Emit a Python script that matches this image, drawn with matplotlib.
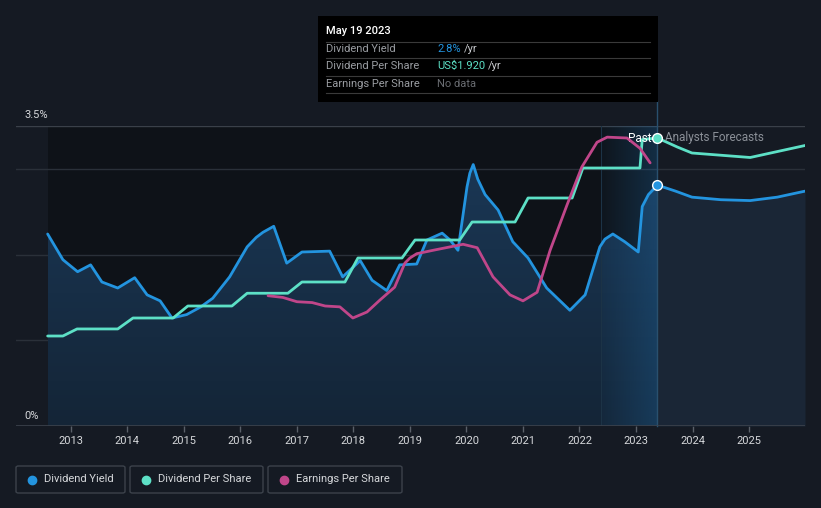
import matplotlib
matplotlib.use("Agg")
import matplotlib.pyplot as plt
import numpy as np
from matplotlib.patches import Rectangle, FancyBboxPatch
from matplotlib.lines import Line2D

# ----------------------------------------------------------------------------------------------------------------------
#  DATA
# ----------------------------------------------------------------------------------------------------------------------

# dividend yield (%), past
yield_years = [2012.59, 2012.86, 2013.12, 2013.35, 2013.55, 2013.83, 2014.13, 2014.35, 2014.58, 2014.79,
               2015.05, 2015.30, 2015.51, 2015.81, 2016.12, 2016.28, 2016.40, 2016.59, 2016.82, 2017.09,
               2017.58, 2017.81, 2018.12, 2018.33, 2018.59, 2018.82, 2019.12, 2019.30, 2019.57, 2019.71,
               2019.85, 2020.01, 2020.06, 2020.12, 2020.20, 2020.33, 2020.56, 2020.82, 2021.09, 2021.42,
               2021.83, 2022.10, 2022.36, 2022.45, 2022.59, 2022.80, 2023.04, 2023.11, 2023.22, 2023.38]
yield_vals = [2.24, 1.94, 1.80, 1.88, 1.68, 1.61, 1.73, 1.53, 1.46, 1.26,
              1.30, 1.39, 1.49, 1.74, 2.09, 2.20, 2.26, 2.33, 1.90, 2.03,
              2.04, 1.74, 1.93, 1.70, 1.58, 1.88, 1.89, 2.17, 2.25, 2.17,
              2.05, 2.79, 2.95, 3.05, 2.88, 2.70, 2.52, 2.15, 1.96, 1.61,
              1.35, 1.53, 2.09, 2.18, 2.24, 2.15, 2.03, 2.56, 2.70, 2.81]

# dividend yield (%), analysts forecast
yield_fc_years = [2023.38, 2023.70, 2023.99, 2024.50, 2025.02, 2025.50, 2025.99]
yield_fc_vals = [2.81, 2.74, 2.67, 2.64, 2.63, 2.67, 2.74]

# dividend per share (US$)
dps_years = [2012.59, 2012.86, 2013.11, 2013.83, 2014.10, 2014.81, 2015.07, 2015.85, 2016.12, 2016.84,
             2017.09, 2017.85, 2018.08, 2018.86, 2019.09, 2019.88, 2020.10, 2020.86, 2021.09, 2021.87,
             2022.06, 2023.07, 2023.11, 2023.38]
dps_vals = [0.60, 0.60, 0.647, 0.647, 0.72, 0.72, 0.80, 0.80, 0.885, 0.885,
            0.96, 0.96, 1.12, 1.12, 1.24, 1.24, 1.36, 1.36, 1.52, 1.52,
            1.72, 1.72, 1.91, 1.92]
dps_fc_years = [2023.38, 2023.73, 2023.99, 2025.02, 2025.99]
dps_fc_vals = [1.92, 1.86, 1.82, 1.79, 1.87]

# earnings per share (relative scale)
eps_years = [2016.49, 2016.75, 2017.00, 2017.27, 2017.50, 2017.76, 2017.99, 2018.24, 2018.47, 2018.73,
             2018.91, 2019.00, 2019.12, 2019.41, 2019.94, 2020.19, 2020.47, 2020.77, 2021.00, 2021.25,
             2021.48, 2021.78, 2022.04, 2022.31, 2022.49, 2022.84, 2023.07, 2023.25]
eps_vals = [1.52, 1.50, 1.45, 1.44, 1.40, 1.39, 1.26, 1.33, 1.47, 1.62,
            1.90, 1.96, 2.01, 2.05, 2.12, 2.08, 1.74, 1.53, 1.46, 1.56,
            2.05, 2.58, 3.02, 3.31, 3.37, 3.36, 3.24, 3.07]

tick_years = list(range(2013, 2026))
today = 2023.38
band_start = 2022.38

# ----------------------------------------------------------------------------------------------------------------------
#  STYLE
# ----------------------------------------------------------------------------------------------------------------------
plt.rcParams['font.family'] = ['Roboto', 'DejaVu Sans']

bg = '#151a23'
past_bg = '#0e1218'
c_yield = '#2394df'
c_dps = '#5de0c6'
c_eps = '#c0468a'
grid_c = '#2a3039'
txt_c = '#d6d8db'
fs = 8
W, H = 821, 508

fig = plt.figure(figsize=(W / 100, H / 100), dpi=100, facecolor=bg)
ax = fig.add_axes([16 / W, 1 - 426 / H, (805 - 16) / W, 300 / H])
ax.set_facecolor(bg)
ax.set_xlim(2012.03, 2025.99)
ax.set_ylim(0, 3.5)
for s in ax.spines.values():
    s.set_visible(False)

# dark past background
ax.axvspan(yield_years[0], today, color=past_bg, zorder=0, lw=0)

# gridlines
for g in [1, 2, 3, 3.5]:
    ax.axhline(g, color=grid_c if g < 3.5 else '#3a4049', lw=1, zorder=1)
ax.axhline(0, color='#3c424c', lw=1.2, zorder=6)

# gradient fill under past yield
poly = ax.fill_between(yield_years, yield_vals, 0, color='none', lw=0, zorder=2)
grad = np.zeros((100, 1, 4))
top_c = np.array([0x1a, 0x37, 0x55]) / 255
bot_c = np.array([0x14, 0x25, 0x37]) / 255
for k in range(100):
    t = k / 99
    grad[k, 0, :3] = top_c * (1 - t) + bot_c * t
    grad[k, 0, 3] = 1
im = ax.imshow(grad, extent=[yield_years[0], today, 0, 3.1], aspect='auto', zorder=2,
               interpolation='bilinear')
im.set_clip_path(poly.get_paths()[0], transform=ax.transData)

# forecast fill
ax.fill_between(yield_fc_years, yield_fc_vals, 0, color='#1a2636', lw=0, zorder=2)

# highlight band (last year before today)
band = np.zeros((1, 100, 4))
band[0, :, :3] = np.array([0x1f, 0x6a, 0xa5]) / 255
band[0, :, 3] = np.linspace(0.04, 0.32, 100)
ax.imshow(band, extent=[band_start, today, 0, 3.5], aspect='auto', zorder=3, interpolation='bilinear')
ax.axvline(band_start, color='#1c3346', lw=0.8, zorder=3)

# today line, extended up to the tooltip
ax.plot([today, today], [0, 3.79], color='#29506e', lw=1, zorder=3, clip_on=False)

# lines
ax.plot(yield_years, yield_vals, color=c_yield, lw=2, zorder=5, solid_capstyle='round')
ax.plot(yield_fc_years, yield_fc_vals, color=c_yield, lw=2, zorder=5, solid_capstyle='round')

ax_d = ax.twinx()
ax_d.set_ylim(0, 2.0)
ax_d.plot(dps_years, dps_vals, color=c_dps, lw=2, zorder=5, solid_capstyle='round')
ax_d.plot(dps_fc_years, dps_fc_vals, color=c_dps, lw=2, zorder=5, solid_capstyle='round')
ax_d.plot([today], [dps_vals[-1]], 'o', ms=7, mfc=c_dps, mec='white', mew=1, zorder=7)

ax_e = ax.twinx()
ax_e.set_ylim(0, 3.5)
ax_e.plot(eps_years, eps_vals, color=c_eps, lw=2, zorder=5, solid_capstyle='round')

ax.plot([today], [yield_vals[-1]], 'o', ms=7, mfc=c_yield, mec='white', mew=1, zorder=7)

for a in [ax_d, ax_e]:
    a.axis('off')
    a.set_xlim(ax.get_xlim())

# ticks
ax.set_xticks(tick_years)
ax.set_xticklabels([str(y) for y in tick_years])
ax.tick_params(axis='x', colors='#5a6069', length=4, width=1, labelcolor=txt_c, labelsize=fs, pad=3)
ax.set_yticks([])
ax.annotate('3.5%', xy=(2012.18, 3.5), xytext=(0, 4), textcoords='offset points',
            color=txt_c, fontsize=fs, va='bottom', ha='left')
ax.text(2012.18, 0.06, '0%', color=txt_c, fontsize=fs, va='bottom', ha='left')

# past / forecast labels
ax_d.text(today - 0.1, 1.92, 'Past', color='white', fontsize=fs + 0.5, ha='right', va='center', zorder=8)
ax_d.text(today + 0.13, 1.92, 'Analysts Forecasts', color='#8b9098', fontsize=fs + 0.5,
          ha='left', va='center', zorder=8)

# ----------------------------------------------------------------------------------------------------------------------
#  TOOLTIP
# ----------------------------------------------------------------------------------------------------------------------
def fx(px):
    return px / W

def fy(py):
    return 1 - py / H

fig.add_artist(Rectangle((fx(318), fy(101.5)), fx(658) - fx(318), fy(16) - fy(101.5),
                         transform=fig.transFigure, facecolor='black', edgecolor='none', zorder=10))
for sy in [41.7, 58.3, 76, 93]:
    fig.add_artist(Line2D([fx(326), fx(650)], [fy(sy), fy(sy)], transform=fig.transFigure,
                          color='#3a3a3a', lw=0.8, zorder=11))
fig.text(fx(326), fy(31.5), 'May 19 2023', color='white', fontsize=fs, fontweight='medium',
         va='center', zorder=12)
rows = [('Dividend Yield', '2.8%', c_yield, True),
        ('Dividend Per Share', 'US$1.920', c_dps, True),
        ('Earnings Per Share', 'No data', '#6a6d72', False)]
value_texts = []
for (lab, val, col, per_yr), ry in zip(rows, [49.3, 66, 84]):
    fig.text(fx(326), fy(ry), lab, color='#9a9da2', fontsize=fs, va='center', zorder=12)
    t = fig.text(fx(437), fy(ry), val, color=col, fontsize=fs, va='center', zorder=12)
    if per_yr:
        value_texts.append((t, ry))

renderer = fig.canvas.get_renderer()
for t, ry in value_texts:
    bb = t.get_window_extent(renderer=renderer)
    fig.text(bb.x1 / W + fx(3), fy(ry), '/yr', color='#c8cacd', fontsize=fs, va='center', zorder=12)

# ----------------------------------------------------------------------------------------------------------------------
#  LEGEND
# ----------------------------------------------------------------------------------------------------------------------
legend_items = [('Dividend Yield', c_yield, 16, 125),
                ('Dividend Per Share', c_dps, 130, 263),
                ('Earnings Per Share', c_eps, 268, 402)]
for lab, col, x0, x1 in legend_items:
    fig.add_artist(FancyBboxPatch((fx(x0), fy(493)), fx(x1) - fx(x0), fy(466) - fy(493),
                                  boxstyle='round,pad=0,rounding_size=0.003', transform=fig.transFigure,
                                  facecolor='none', edgecolor='#3c424b', lw=1))
    fig.add_artist(Line2D([fx(x0 + 16)], [fy(479.5)], marker='o', ms=6, color=col,
                          transform=fig.transFigure, lw=0))
    fig.text(fx(x0 + 28), fy(479.5), lab, color=txt_c, fontsize=fs, va='center')

fig.savefig('out.png', dpi=100, facecolor=bg)
